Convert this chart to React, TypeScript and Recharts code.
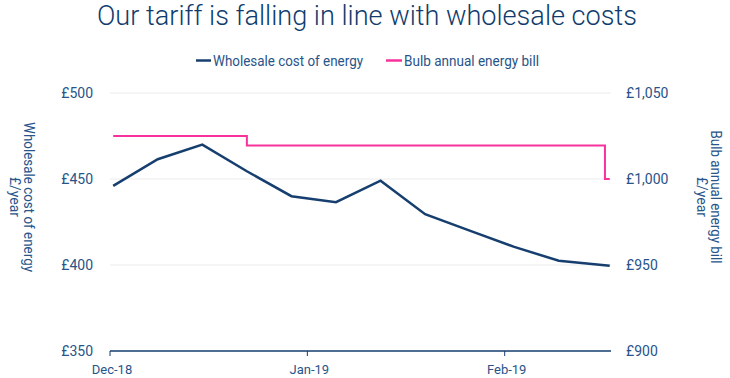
import React from "react";
import { LineChart, Line, XAxis, YAxis, CartesianGrid } from "recharts";

// ---- data ----
const weekDates = [
  "2018-12-01", "2018-12-08", "2018-12-15", "2018-12-22", "2018-12-29", "2019-01-05",
  "2019-01-12", "2019-01-19", "2019-01-26", "2019-02-02", "2019-02-09", "2019-02-17",
];
const wholesaleCost = [446, 461.5, 470, 454.5, 440, 436.5, 449, 429.5, 420, 410.5, 402.5, 399.5];

const billDates = ["2018-12-01", "2018-12-22", "2019-02-16T18:00", "2019-02-17"];
const bulbBill = [1025, 1019.5, 1000, 1000];

const xTickDates = ["2018-12-01", "2019-01-01", "2019-02-01"];
const xTickLabels = ["Dec-18", "Jan-19", "Feb-19"];
const leftTicks = [350, 400, 450, 500];
const rightTicks = [900, 950, 1000, 1050];

const titleText = "Our tariff is falling in line with wholesale costs";
const seriesNames = ["Wholesale cost of energy", "Bulb annual energy bill"];
const leftAxisTitle = ["Wholesale cost of energy", "£/year"];
const rightAxisTitle = ["Bulb annual energy bill", "£/year"];

// ---- helpers ----
const DAY = 86400000;
const atNoon = (s: string) => Date.parse(s.includes("T") ? s + ":00Z" : s + "T12:00:00Z");
const atMidnight = (s: string) => Date.parse(s + "T00:00:00Z");
const xStart = atMidnight(xTickDates[0]);
const xEnd = xStart + 78.7 * DAY;
const xTicks = xTickDates.map(atMidnight);
const tickLabelOf = (t: number) => {
  const i = xTicks.indexOf(t);
  return i >= 0 ? xTickLabels[i] : "";
};
const gbp = (v: number) => "£" + v.toLocaleString("en-GB");

const wholesaleData = weekDates.map((d, i) => ({ t: atNoon(d), v: wholesaleCost[i] }));
const billData = billDates.map((d, i) => ({ t: atNoon(d), v: bulbBill[i] }));

const NAVY = "#163f6f";
const PINK = "#f7329b";
const TEXT = "#275489";
const FONT = "Roboto, 'Open Sans', sans-serif";

export default function App() {
  return (
    <div style={{ position: "absolute", left: 0, top: 0, width: 730, height: 378, background: "#fff", fontFamily: FONT }}>
      <LineChart width={730} height={378} margin={{ top: 93, right: 0, bottom: 0, left: 0 }}>
        <CartesianGrid horizontal vertical={false} stroke="#ececec" yAxisId="left" />
        <XAxis
          dataKey="t"
          type="number"
          domain={[xStart, xEnd]}
          ticks={xTicks}
          tickFormatter={tickLabelOf}
          allowDataOverflow
          height={27}
          axisLine={{ stroke: NAVY, strokeWidth: 1.5 }}
          tickLine={{ stroke: NAVY, strokeWidth: 1 }}
          tickSize={5}
          tickMargin={9}
          tick={{ fill: TEXT, fontSize: 13, fontFamily: FONT, dx: 2 }}
        />
        <YAxis
          yAxisId="left"
          orientation="left"
          width={110}
          domain={[350, 500]}
          ticks={leftTicks}
          tickFormatter={gbp}
          axisLine={false}
          tickLine={false}
          tickSize={0}
          tickMargin={17}
          tick={{ fill: TEXT, fontSize: 14, fontFamily: FONT }}
        />
        <YAxis
          yAxisId="right"
          orientation="right"
          width={119}
          domain={[900, 1050]}
          ticks={rightTicks}
          tickFormatter={gbp}
          axisLine={false}
          tickLine={false}
          tickSize={0}
          tickMargin={15}
          tick={{ fill: TEXT, fontSize: 14, fontFamily: FONT, textAnchor: "start" }}
        />
        <Line
          yAxisId="right"
          data={billData}
          dataKey="v"
          name={seriesNames[1]}
          type="stepAfter"
          stroke={PINK}
          strokeWidth={2}
          dot={false}
          isAnimationActive={false}
        />
        <Line
          yAxisId="left"
          data={wholesaleData}
          dataKey="v"
          name={seriesNames[0]}
          type="linear"
          stroke={NAVY}
          strokeWidth={2.5}
          dot={false}
          isAnimationActive={false}
        />
      </LineChart>
      <svg
        width={730}
        height={378}
        style={{ position: "absolute", left: 0, top: 0, pointerEvents: "none" }}
        fontFamily={FONT}
      >
        <text x={367} y={25} textAnchor="middle" fontSize={27} fontWeight={300} fill="#0f3c6d" textLength={540} lengthAdjust="spacingAndGlyphs">
          {titleText}
        </text>
        {/* legend */}
        <line x1={196} x2={211} y1={60.5} y2={60.5} stroke={NAVY} strokeWidth={2.5} />
        <text x={213} y={66} fontSize={14} fill={TEXT} textLength={150} lengthAdjust="spacingAndGlyphs">
          {seriesNames[0]}
        </text>
        <line x1={386} x2={402} y1={60.5} y2={60.5} stroke={PINK} strokeWidth={2.5} />
        <text x={404} y={66} fontSize={14} fill={TEXT} textLength={135} lengthAdjust="spacingAndGlyphs">
          {seriesNames[1]}
        </text>
        {/* left axis title */}
        <g transform="translate(24,197) rotate(90)">
          <text x={0} y={0} textAnchor="middle" fontSize={14} fill={TEXT} textLength={150} lengthAdjust="spacingAndGlyphs">
            {leftAxisTitle[0]}
          </text>
          <text x={0} y={14} textAnchor="middle" fontSize={14} fill={TEXT}>
            {leftAxisTitle[1]}
          </text>
        </g>
        {/* right axis title */}
        <g transform="translate(711,197) rotate(90)">
          <text x={0} y={0} textAnchor="middle" fontSize={14} fill={TEXT} textLength={133} lengthAdjust="spacingAndGlyphs">
            {rightAxisTitle[0]}
          </text>
          <text x={0} y={14} textAnchor="middle" fontSize={14} fill={TEXT}>
            {rightAxisTitle[1]}
          </text>
        </g>
      </svg>
    </div>
  );
}
